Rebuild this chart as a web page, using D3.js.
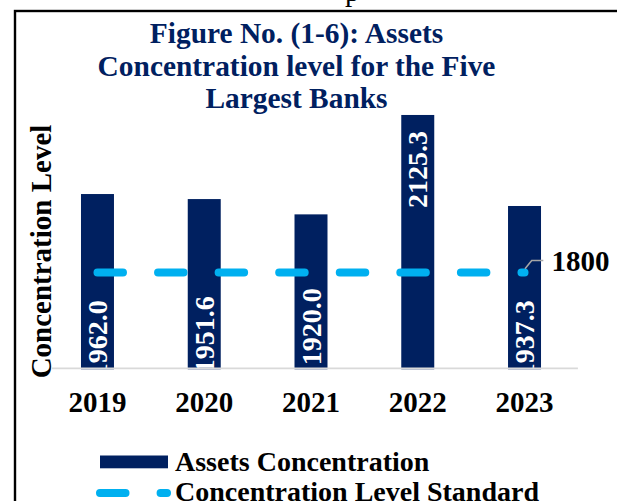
<!DOCTYPE html>
<html>
<head>
<meta charset="utf-8">
<script src="https://cdn.jsdelivr.net/npm/d3@7"></script>
<style>
  html, body { margin: 0; padding: 0; background: #ffffff; }
  svg { display: block; }
  text { font-family: "Liberation Serif", "Times New Roman", serif; }
</style>
</head>
<body>
<svg id="chart" width="617" height="501"></svg>
<script>
// Assets concentration of the five largest banks, by year
const years = ["2019", "2020", "2021", "2022", "2023"];
const assetsConcentration = [1962.0, 1951.6, 1920.0, 2125.3, 1937.3];
const standardLevel = 1800;
const titleLines = ["Figure No. (1-6): Assets", "Concentration level for the Five", "Largest Banks"];
const seriesNames = ["Assets Concentration", "Concentration Level Standard"];

// label placement: "base" labels sit above the axis, "end" labels hang from the bar top
const labelPlacement = [
  { at: "base", shift: 69 },
  { at: "base", shift: 73 },
  { at: "base", shift: 81 },
  { at: "end", shift: 16 },
  { at: "base", shift: 69 }
];

const navy = "#002060";
const cyan = "#00b0f0";

const svg = d3.select("#chart");

// page frame and the tail of the running header above it
svg.append("text").attr("x", 345).attr("y", 1).attr("font-size", 29).attr("fill", "#000").text("p");
svg.append("rect").attr("x", 15).attr("y", 11).attr("width", 700).attr("height", 600)
  .attr("fill", "none").attr("stroke", "#000").attr("stroke-width", 2.4);

// title
const title = svg.append("text").attr("text-anchor", "middle").attr("font-size", 29.4)
  .attr("font-weight", "bold").attr("fill", navy);
titleLines.forEach((t, i) => {
  title.append("tspan").attr("x", 296.5).attr("y", 43 + i * 32.5).text(t);
});

// scales
const x = d3.scaleBand().domain(years).range([44.1, 577.9]).paddingInner(0.691).paddingOuter(0.3455);
const y = d3.scaleLinear().domain([1600, 2200]).range([369.3, 78.8]);
const baseY = y(1600);

svg.append("defs").append("clipPath").attr("id", "plotClip")
  .append("rect").attr("x", 40).attr("y", 60).attr("width", 560).attr("height", baseY - 1.5 - 60);

// bars
svg.append("g").selectAll("rect").data(assetsConcentration).join("rect")
  .attr("x", (d, i) => x(years[i]))
  .attr("width", x.bandwidth())
  .attr("y", d => y(d))
  .attr("height", d => baseY - y(d))
  .attr("fill", navy);

// category axis
const axisG = svg.append("g").attr("transform", `translate(0,${baseY - 1})`)
  .call(d3.axisBottom(x).tickSize(0).tickPadding(23));
axisG.select(".domain").remove();
axisG.selectAll("text").attr("font-family", "Liberation Serif, serif").attr("font-size", 29)
  .attr("font-weight", "bold").attr("fill", "#000");
axisG.append("line").attr("x1", 52).attr("x2", x.range()[1]).attr("y1", 0).attr("y2", 0)
  .attr("stroke", "#d9d9d9").attr("stroke-width", 1.8);

// standard level (dashed line across the category centres)
const lineGen = d3.line().x(d => x(d) + x.bandwidth() / 2).y(() => y(standardLevel));
svg.append("path").datum(years).attr("d", lineGen)
  .attr("fill", "none").attr("stroke", cyan).attr("stroke-width", 8)
  .attr("stroke-linecap", "round").attr("stroke-dasharray", "25.5 35.07");

// value labels, rotated inside the bars
const lab = svg.append("g").attr("clip-path", "url(#plotClip)");
assetsConcentration.forEach((v, i) => {
  const cx = x(years[i]) + x.bandwidth() / 2;
  const p = labelPlacement[i];
  const endY = p.at === "base" ? baseY - p.shift : y(v) + p.shift;
  lab.append("text")
    .attr("transform", `translate(${cx + 9.6},${endY}) rotate(-90)`)
    .attr("text-anchor", "end")
    .attr("font-size", 28).attr("font-weight", "bold").attr("fill", "#fff")
    .text(d3.format(".1f")(v));
});

// callout for the standard level
const lastX = x(years[years.length - 1]) + x.bandwidth() / 2;
const stdY = y(standardLevel);
svg.append("path")
  .attr("d", `M${lastX + 0.5},${stdY - 3.8}L${lastX + 7.2},${stdY - 12}H${lastX + 18.8}`)
  .attr("fill", "none").attr("stroke", "#a6a6a6").attr("stroke-width", 1.6);
svg.append("text").attr("x", lastX + 27).attr("y", stdY - 1.3)
  .attr("font-size", 29).attr("font-weight", "bold").attr("fill", "#000")
  .text(d3.format("d")(standardLevel));

// value axis title
svg.append("text").attr("transform", "translate(51,251.5) rotate(-90)")
  .attr("text-anchor", "middle").attr("font-size", 29).attr("font-weight", "bold").attr("fill", "#000")
  .text("Concentration Level");

// legend
const legend = svg.append("g");
legend.append("rect").attr("x", 100).attr("y", 455.5).attr("width", 68).attr("height", 12.8).attr("fill", navy);
legend.append("text").attr("x", 175).attr("y", 471).attr("font-size", 28).attr("font-weight", "bold")
  .attr("fill", "#000").text(seriesNames[0]);
legend.append("line").attr("x1", 100).attr("x2", 167).attr("y1", 493).attr("y2", 493)
  .attr("stroke", cyan).attr("stroke-width", 8).attr("stroke-linecap", "round")
  .attr("stroke-dasharray", "25.5 35.07");
legend.append("text").attr("x", 175).attr("y", 501).attr("font-size", 28).attr("font-weight", "bold")
  .attr("fill", "#000").text(seriesNames[1]);
</script>
</body>
</html>
